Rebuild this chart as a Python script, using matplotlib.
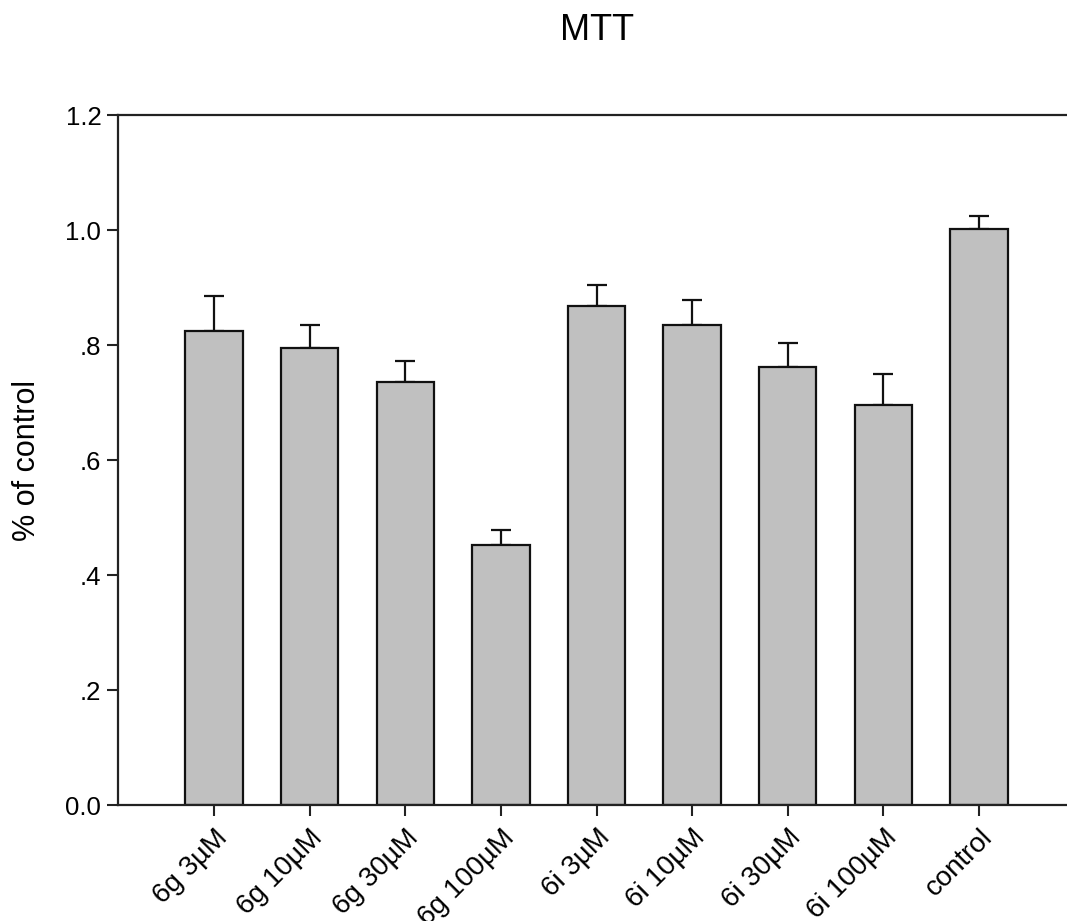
import matplotlib
matplotlib.use("Agg")
import matplotlib.pyplot as plt
import numpy as np

plt.rcParams['font.family'] = ['Liberation Sans', 'DejaVu Sans']

labels = ["6g 3µM", "6g 10µM", "6g 30µM", "6g 100µM",
          "6i 3µM", "6i 10µM", "6i 30µM", "6i 100µM", "control"]
means = [0.824, 0.794, 0.736, 0.453, 0.867, 0.835, 0.762, 0.696, 1.001]
errors = [0.062, 0.041, 0.036, 0.025, 0.037, 0.044, 0.042, 0.053, 0.023]
yticks = [0.0, 0.2, 0.4, 0.6, 0.8, 1.0, 1.2]
yticklabels = ["0.0", ".2", ".4", ".6", ".8", "1.0", "1.2"]

fig = plt.figure(figsize=(10.67, 9.21), dpi=100)
ax = fig.add_axes([118 / 1067, 116 / 921, 1 - 118 / 1067, 690 / 921])

x = np.arange(len(labels))
ax.bar(x, means, width=0.6, color="#c0c0c0", edgecolor="#111111",
       linewidth=1.6, zorder=2)
ax.errorbar(x, means, yerr=[np.zeros(len(errors)), errors], fmt="none",
            ecolor="#111111", elinewidth=1.6, capsize=7.5, capthick=1.6,
            zorder=1)

ax.set_xlim(-1.004, 8.92)
ax.set_ylim(0, 1.2)
ax.set_yticks(yticks)
ax.set_yticklabels(yticklabels, fontsize=18.5)
ax.set_xticks(x)
ax.set_xticklabels(labels, fontsize=20, rotation=45, ha="right",
                   rotation_mode="anchor")
ax.tick_params(axis="both", direction="out", length=8, width=1.5,
               color="#222222", pad=4)
ax.tick_params(axis="x", pad=6)

ax.spines["right"].set_visible(False)
for s in ["top", "left", "bottom"]:
    ax.spines[s].set_linewidth(1.6)
    ax.spines[s].set_color("#222222")

ax.set_ylabel("% of control", fontsize=22, labelpad=17)
fig.text(597 / 1067, 1 - 30 / 921, "MTT", fontsize=26, ha="center",
         va="center")

fig.savefig("out.png", dpi=100)
